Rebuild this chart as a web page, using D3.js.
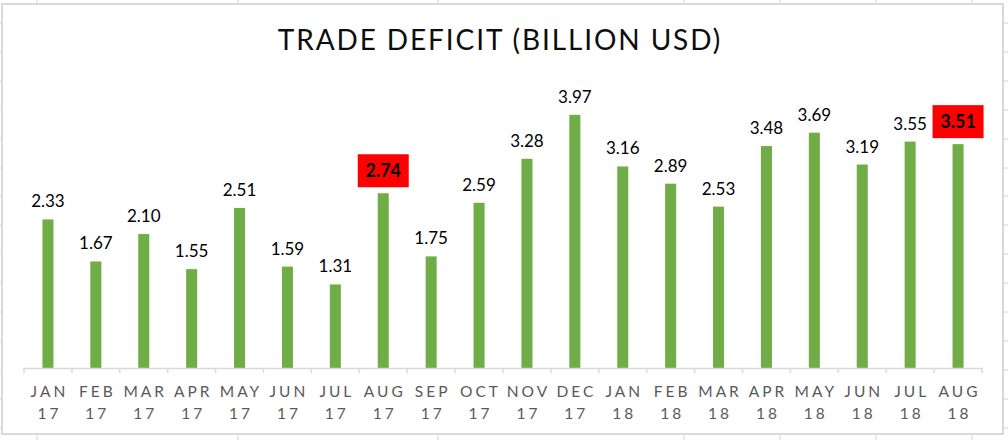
<!DOCTYPE html>
<html>
<head>
<meta charset="utf-8">
<script src="https://cdn.jsdelivr.net/npm/d3@7"></script>
<style>
  html, body { margin: 0; padding: 0; background: #ffffff; }
  svg { display: block; }
</style>
</head>
<body>
<svg id="chart" width="1008" height="440"></svg>
<script>
// ---- data ----
const months = ["JAN", "FEB", "MAR", "APR", "MAY", "JUN", "JUL", "AUG", "SEP", "OCT", "NOV", "DEC",
                "JAN", "FEB", "MAR", "APR", "MAY", "JUN", "JUL", "AUG"];
const years = ["17", "17", "17", "17", "17", "17", "17", "17", "17", "17", "17", "17",
               "18", "18", "18", "18", "18", "18", "18", "18"];
const deficit = [2.33, 1.67, 2.10, 1.55, 2.51, 1.59, 1.31, 2.74, 1.75, 2.59, 3.28, 3.97,
                 3.16, 2.89, 2.53, 3.48, 3.69, 3.19, 3.55, 3.51];
const highlighted = ["AUG 17", "AUG 18"];
const title = "TRADE DEFICIT (BILLION USD)";
// spreadsheet cell grid peeking around the chart
const sheetCols = [37, 238, 438, 684, 780, 876, 972];
const sheetRows = [23, 52, 81, 110, 139, 168, 196, 225, 254, 283, 312, 341, 370, 399, 428];

const categories = months.map((m, i) => m + " " + years[i]);
const data = categories.map((c, i) => ({ cat: c, month: months[i], year: years[i], value: deficit[i] }));

const svg = d3.select("#chart");
const font = "Lato, 'Open Sans', 'DejaVu Sans', sans-serif";

// sheet grid stubs
const gridColor = "#d4d4d4";
svg.append("g").selectAll("line").data(sheetCols).join("line")
  .attr("x1", d => d).attr("x2", d => d).attr("y1", 0).attr("y2", 4)
  .attr("stroke", gridColor).attr("stroke-width", 1);
svg.append("g").selectAll("line").data(sheetCols).join("line")
  .attr("x1", d => d).attr("x2", d => d).attr("y1", 435).attr("y2", 440)
  .attr("stroke", gridColor).attr("stroke-width", 1);
svg.append("g").selectAll("line").data(sheetRows).join("line")
  .attr("x1", 0).attr("x2", 2).attr("y1", d => d).attr("y2", d => d)
  .attr("stroke", gridColor).attr("stroke-width", 1);
svg.append("g").selectAll("line").data(sheetRows).join("line")
  .attr("x1", 1004).attr("x2", 1008).attr("y1", d => d).attr("y2", d => d)
  .attr("stroke", gridColor).attr("stroke-width", 1);

// chart frame
svg.append("rect")
  .attr("x", 2).attr("y", 4).attr("width", 1001).attr("height", 430)
  .attr("fill", "#ffffff").attr("stroke", "#d9d9d9").attr("stroke-width", 2);

// scales
const x = d3.scaleBand().domain(categories).range([24, 982]).paddingInner(0.77).paddingOuter(0.385);
const y = d3.scaleLinear().domain([0, 4.5]).range([368, 81]);

// title
svg.append("text")
  .attr("x", 500).attr("y", 50)
  .attr("text-anchor", "middle")
  .attr("font-family", font).attr("font-size", 28)
  .attr("letter-spacing", "1.9px")
  .attr("fill", "#0d0d0d")
  .text(title);

// bars
svg.append("g").selectAll("rect").data(data).join("rect")
  .attr("x", d => x(d.cat)).attr("width", x.bandwidth())
  .attr("y", d => y(d.value)).attr("height", d => y(0) - y(d.value))
  .attr("fill", "#70ad47");

// x axis line + tick marks at category boundaries
const step = x.step();
const x0 = 24;
const axisG = svg.append("g");
axisG.append("line")
  .attr("x1", x0).attr("x2", x0 + step * categories.length)
  .attr("y1", y(0) + 0.5).attr("y2", y(0) + 0.5)
  .attr("stroke", "#d9d9d9").attr("stroke-width", 1.5);
axisG.selectAll("line.tick").data(d3.range(categories.length + 1)).join("line")
  .attr("x1", i => x0 + i * step).attr("x2", i => x0 + i * step)
  .attr("y1", y(0)).attr("y2", y(0) + 5)
  .attr("stroke", "#d9d9d9").attr("stroke-width", 1.5);

// category labels
const labG = svg.append("g")
  .attr("font-family", font).attr("font-size", 15.5).attr("fill", "#595959")
  .attr("text-anchor", "middle");
labG.selectAll("text.m").data(data).join("text")
  .attr("x", d => x(d.cat) + x.bandwidth() / 2 + 1.5).attr("y", 397)
  .attr("letter-spacing", "3px")
  .text(d => d.month);
labG.selectAll("text.y").data(data).join("text")
  .attr("x", d => x(d.cat) + x.bandwidth() / 2 + 1.5).attr("y", 419)
  .attr("letter-spacing", "3px")
  .text(d => d.year);

// value labels
const fmt = d3.format(".2f");
const valG = svg.append("g").attr("font-family", font).attr("text-anchor", "middle");
data.forEach(d => {
  const cx = x(d.cat) + x.bandwidth() / 2;
  const top = y(d.value);
  if (highlighted.includes(d.cat)) {
    const bw = 51, bh = 33;
    valG.append("rect")
      .attr("x", cx - bw / 2).attr("y", top - 6 - bh)
      .attr("width", bw).attr("height", bh)
      .attr("fill", "#ff0000");
    valG.append("text")
      .attr("x", cx).attr("y", top - 6 - bh / 2 + 6.5)
      .attr("font-size", 18).attr("font-weight", "bold").attr("fill", "#000")
      .text(fmt(d.value));
  } else {
    valG.append("text")
      .attr("x", cx).attr("y", top - 12)
      .attr("font-size", 17).attr("fill", "#000")
      .text(fmt(d.value));
  }
});
</script>
</body>
</html>
